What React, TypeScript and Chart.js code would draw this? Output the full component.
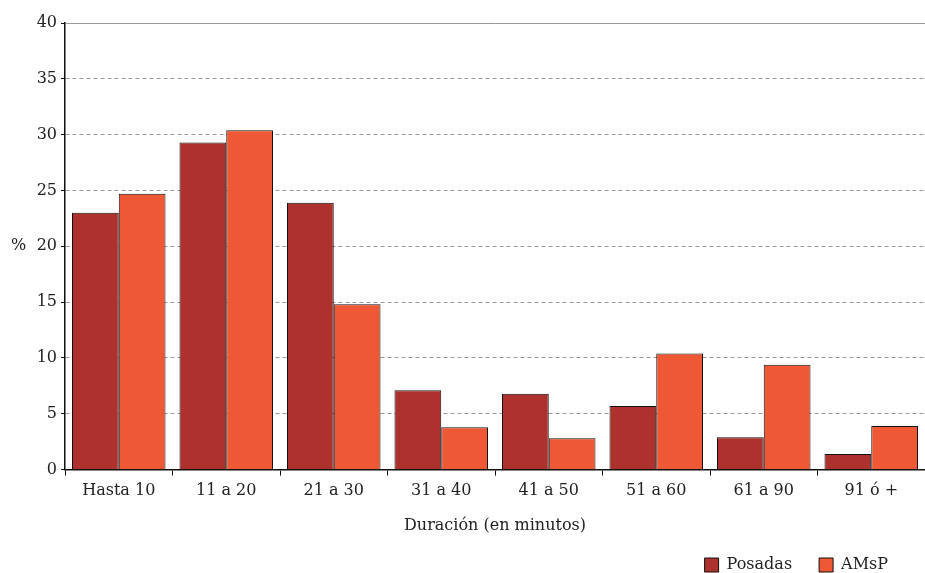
import React, { useEffect, useRef } from "react";
import { Chart, registerables } from "chart.js";

Chart.register(...registerables);

const categories = ["Hasta 10", "11 a 20", "21 a 30", "31 a 40", "41 a 50", "51 a 60", "61 a 90", "91 ó +"];
const posadas = [23.0, 29.3, 23.9, 7.1, 6.8, 5.7, 2.9, 1.4];
const amsp = [24.7, 30.4, 14.8, 3.8, 2.8, 10.4, 9.4, 3.9];
const yTicks = [0, 5, 10, 15, 20, 25, 30, 35, 40];

const FONT = "'DejaVu Serif', 'Liberation Serif', serif";
const FS = 16;

const percentLabel = {
  id: "percentLabel",
  afterLayout(chart: any) {
    const lg = chart.legend;
    if (lg) {
      lg.left -= 10;
      lg.right -= 10;
      lg.top -= 5.6;
      lg.bottom = chart.height;
    }
  },
  afterDraw(chart: any) {
    const { ctx, scales } = chart;
    const y = scales.y;
    const py = y.getPixelForValue(20);
    ctx.save();
    ctx.font = `${FS}px ${FONT}`;
    ctx.fillStyle = "#222";
    ctx.textAlign = "left";
    ctx.textBaseline = "middle";
    ctx.fillText("%", 11, py);
    ctx.restore();
  },
};

export default function App() {
  const ref = useRef<HTMLCanvasElement | null>(null);
  useEffect(() => {
    if (!ref.current) return;
    const chart = new Chart(ref.current, {
      type: "bar",
      data: {
        labels: categories,
        datasets: [
          {
            label: "Posadas",
            data: posadas,
            backgroundColor: "#AD322D",
            borderColor: "#111",
            borderWidth: 1,
            categoryPercentage: 0.87,
            barPercentage: 1.0,
          },
          {
            label: "AMsP",
            data: amsp,
            backgroundColor: "#EE5835",
            borderColor: "#111",
            borderWidth: 1,
            categoryPercentage: 0.87,
            barPercentage: 1.0,
          },
        ],
      },
      options: {
        animation: false,
        responsive: false,
        maintainAspectRatio: false,
        layout: { padding: { top: 23, right: 0, left: 0, bottom: 0 } },
        plugins: {
          tooltip: { enabled: false },
          legend: {
            position: "bottom",
            align: "end",
            maxHeight: 37.4,
            labels: {
              font: { family: FONT, size: FS },
              color: "#222",
              boxWidth: 14,
              boxHeight: 14,
              padding: 27,
            },
          },
        },
        scales: {
          x: {
            grid: {
              display: true,
              drawOnChartArea: false,
              offset: true,
              tickLength: 6,
              tickColor: "#111",
            },
            border: { display: true, color: "#111", width: 1.5 },
            ticks: {
              font: { family: FONT, size: FS },
              color: "#222",
              padding: 5.4,
            },
            title: {
              display: true,
              text: "Duración (en minutos)",
              font: { family: FONT, size: FS },
              color: "#222",
              padding: { top: 10.8, bottom: 0 },
            },
          },
          y: {
            min: 0,
            max: 40,
            afterBuildTicks: (scale: any) => {
              scale.ticks = yTicks.map((v) => ({ value: v }));
            },
            afterFit: (scale: any) => {
              scale.width = 65;
            },
            grid: {
              color: (ctx: any) => (ctx.tick && ctx.tick.value === 0 ? "rgba(0,0,0,0)" : "#9a9a9a"),
              lineWidth: 1,
              tickLength: 4,
              tickColor: "#111",
            },
            border: {
              display: true,
              color: "#111",
              width: 1.5,
              dash: (ctx: any) => (ctx.tick && ctx.tick.value === 40 ? [] : [4, 3]),
            },
            ticks: {
              font: { family: FONT, size: FS },
              color: "#222",
              padding: 4,
            },
          },
        },
      },
      plugins: [percentLabel],
    });
    return () => chart.destroy();
  }, []);
  return (
    <div style={{ position: "fixed", left: 0, top: 0, width: 925, height: 573, background: "#fff" }}>
      <canvas ref={ref} width={925} height={573} style={{ width: 925, height: 573 }} />
    </div>
  );
}
